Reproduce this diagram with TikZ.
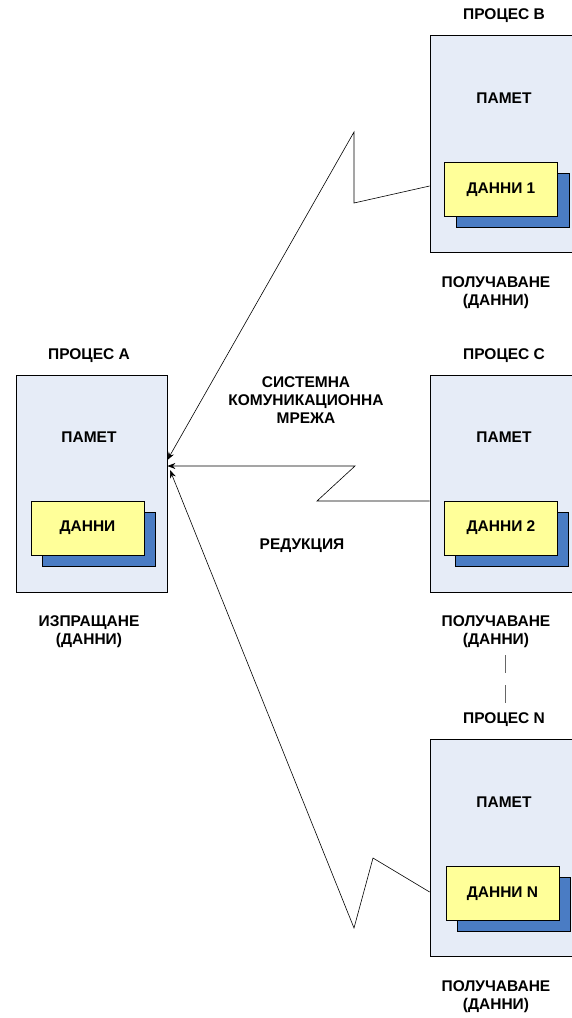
\documentclass[tikz,border=0pt]{standalone}
\usepackage{fontspec}
\setmainfont{Liberation Sans}
\usetikzlibrary{arrows.meta}
\definecolor{memfill}{HTML}{E6ECF7}
\definecolor{datafill}{HTML}{FFFF99}
\definecolor{shadowfill}{HTML}{4A7CC4}
\begin{document}
\begin{tikzpicture}[x=1pt,y=-1pt,
  lbl/.style={font=\bfseries\fontsize{15.5}{18}\selectfont, align=center, inner sep=0pt},
  proc/.style={draw=black, line width=0.8pt, fill=memfill, minimum width=151pt, minimum height=217pt, inner sep=0pt},
  databox/.style={draw=black, line width=0.7pt, fill=datafill, minimum width=113pt, minimum height=54pt, inner sep=0pt, font=\bfseries\fontsize{15.5}{18}\selectfont},
  shadowbox/.style={draw=black, line width=0.7pt, fill=shadowfill, minimum width=113pt, minimum height=54pt, inner sep=0pt},
  link/.style={draw=black, line width=0.6pt},
  tip/.style={-{Stealth[length=8pt,width=6pt]}},
]
\useasboundingbox (0,0) rectangle (572,1018);
\clip (0,0) rectangle (572,1018);

% process A (sender)
\node[proc] (pa) at (91.5,483.5) {};
\node[shadowbox] (sa) at (98.5,539) {};
\node[databox] (da) at (87.5,528) {ДАННИ};
\node[lbl] (ma) at (89,437) {ПАМЕТ};
\node[lbl] (ta) at (89,356) {ПРОЦЕС А};
\node[lbl] (ra) at (89,632) {ИЗПРАЩАНЕ\\(ДАННИ)};

% process B
\node[proc] (pb) at (505.5,144) {};
\node[shadowbox] (sb) at (512.5,200.5) {};
\node[databox] (db) at (501,189.5) {ДАННИ 1};
\node[lbl] (mb) at (504,98) {ПАМЕТ};
\node[lbl] (tb) at (504,16) {ПРОЦЕС В};
\node[lbl] (rb) at (496,293) {ПОЛУЧАВАНЕ\\(ДАННИ)};

% process C
\node[proc] (pc) at (505.5,483.5) {};
\node[shadowbox] (sc) at (512,539) {};
\node[databox] (dc) at (501,528) {ДАННИ 2};
\node[lbl] (mc) at (504,437) {ПАМЕТ};
\node[lbl] (tc) at (504,356) {ПРОЦЕС С};
\node[lbl] (rc) at (496,632) {ПОЛУЧАВАНЕ\\(ДАННИ)};

% process N
\node[proc] (pn) at (505.5,848) {};
\node[shadowbox] (sn) at (513.5,904.5) {};
\node[databox] (dn) at (502.5,893.5) {ДАННИ N};
\node[lbl] (mn) at (504,802) {ПАМЕТ};
\node[lbl] (tn) at (504,720) {ПРОЦЕС N};
\node[lbl] (rn) at (496,997) {ПОЛУЧАВАНЕ\\(ДАННИ)};

% network labels
\node[lbl] (net) at (306,400) {СИСТЕМНА\\КОМУНИКАЦИОННА\\МРЕЖА};
\node[lbl] (red) at (302,546) {РЕДУКЦИЯ};

% ellipsis between C and N
\draw[gray!80!black, line width=0.9pt, dash pattern=on 18pt off 12pt] (rc.south -| 505,0) ++(0,7) coordinate (g1) -- (tn.north -| 505,0) ++(0,-10) coordinate (g2);

% lightning connectors into process A
\coordinate (ob) at (pb.west |- 0,186);
\coordinate (ib) at (pa.east |- 0,460);
\draw[link,tip] (ob) -- (354,203) -- (354,132) -- (ib);

\coordinate (oc) at (pc.west |- 0,501);
\coordinate (ic) at (pa.east |- 0,466);
\draw[link,tip] (oc) -- (317,501) -- (355,466) -- (ic);

\coordinate (on) at (pn.west |- 0,892);
\coordinate (in) at (170,470);
\draw[link,tip] (on) -- (373,858) -- (354,928) -- (in);
\end{tikzpicture}
\end{document}
